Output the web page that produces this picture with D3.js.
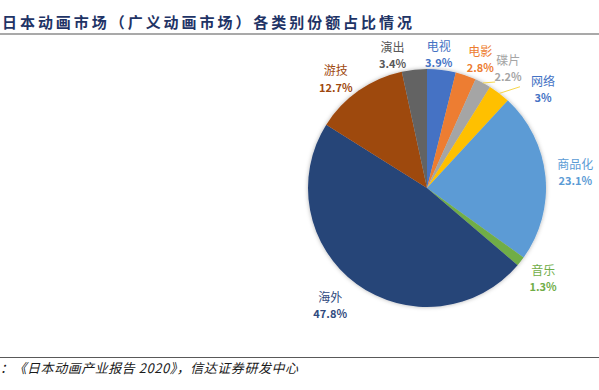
<!DOCTYPE html>
<html>
<head>
<meta charset="utf-8">
<script src="https://cdn.jsdelivr.net/npm/d3@7"></script>
<style>
  body { margin: 0; background: #fff; }
  svg { display: block; }
</style>
</head>
<body>
<svg id="chart" width="599" height="390"></svg>
<script>
const categories = ["电视", "电影", "碟片", "网络", "商品化", "音乐", "海外", "游技", "演出"];
const shares = [3.9, 2.8, 2.2, 3, 23.1, 1.3, 47.8, 12.7, 3.4];
const title = "日本动画市场（广义动画市场）各类别份额占比情况";
const source = "：《日本动画产业报告 2020》，信达证券研发中心";

const colors = ["#4472C4", "#ED7D31", "#A5A5A5", "#FFC000", "#5B9BD5", "#70AD47", "#264478", "#9E480E", "#636363"];
const labelColors = ["#4472C4", "#ED7D31", "#A5A5A5", "#4472C4", "#5B9BD5", "#70AD47", "#2F4A7E", "#9E480E", "#595959"];
// label nudges off the label ring, and leader end offsets
const nudges = [[-6, 11], [6, 9], [13, 9], [28, 17], [4, -1], [2, 1], [-11, 1], [-8, 10], [-19, 12]];
const leaders = { 2: [-13, 13], 3: [-23, -3] };

const svg = d3.select("#chart");
const font = "'Noto Sans CJK SC', 'Noto Sans', sans-serif";

const cx = 427, cy = 188, radius = 119, labelRadius = 145;

// title + rules
svg.append("text")
  .attr("x", 2).attr("y", 28)
  .attr("font-family", font)
  .attr("font-size", 15)
  .attr("font-weight", "bold")
  .attr("fill", "#1F3466")
  .attr("textLength", 410)
  .attr("lengthAdjust", "spacing")
  .text(title);

svg.append("line")
  .attr("x1", 0).attr("x2", 599).attr("y1", 34).attr("y2", 34)
  .attr("stroke", "#8c8c8c").attr("stroke-width", 1.5);

svg.append("line")
  .attr("x1", 0).attr("x2", 599).attr("y1", 357.5).attr("y2", 357.5)
  .attr("stroke", "#595959").attr("stroke-width", 1.2);

svg.append("text")
  .attr("x", 0).attr("y", 373)
  .attr("font-family", font)
  .attr("font-size", 13)
  .attr("font-style", "italic")
  .attr("fill", "#1a1a1a")
  .attr("textLength", 298)
  .attr("lengthAdjust", "spacing")
  .text(source);

// pie
const defs = svg.append("defs");
defs.append("filter").attr("id", "shadow")
  .attr("x", "-20%").attr("y", "-20%").attr("width", "140%").attr("height", "140%")
  .append("feDropShadow")
  .attr("dx", 0).attr("dy", 0).attr("stdDeviation", 2)
  .attr("flood-color", "#000").attr("flood-opacity", 0.3);

const pie = d3.pie().sort(null).value(d => d)(shares);
const arc = d3.arc().innerRadius(0).outerRadius(radius);
const edgeArc = d3.arc().innerRadius(radius).outerRadius(radius);
const labelArc = d3.arc().innerRadius(labelRadius).outerRadius(labelRadius);

const g = svg.append("g").attr("transform", `translate(${cx},${cy})`);

g.append("g").attr("filter", "url(#shadow)")
  .selectAll("path")
  .data(pie)
  .join("path")
  .attr("d", arc)
  .attr("fill", (d, i) => colors[i]);

const labelPos = pie.map((d, i) => {
  const c = labelArc.centroid(d);
  return [c[0] + nudges[i][0], c[1] + nudges[i][1]];
});

// leader lines
Object.entries(leaders).forEach(([k, off]) => {
  const i = +k;
  const s = edgeArc.centroid(pie[i]);
  g.append("line")
    .attr("x1", s[0]).attr("y1", s[1])
    .attr("x2", labelPos[i][0] + off[0]).attr("y2", labelPos[i][1] + off[1])
    .attr("stroke", "#F7D64A").attr("stroke-width", 1);
});

const labels = g.selectAll("g.label")
  .data(pie)
  .join("g")
  .attr("class", "label")
  .attr("transform", (d, i) => `translate(${labelPos[i][0]},${labelPos[i][1]})`)
  .attr("font-family", font)
  .attr("text-anchor", "middle")
  .attr("fill", (d, i) => labelColors[i]);

labels.append("text")
  .attr("y", -8).attr("dy", "0.35em")
  .attr("font-size", 12)
  .text((d, i) => categories[i]);

labels.append("text")
  .attr("y", 8.5).attr("dy", "0.35em")
  .attr("font-size", 11)
  .attr("font-weight", "bold")
  .text(d => `${d.data}%`);
</script>
</body>
</html>
